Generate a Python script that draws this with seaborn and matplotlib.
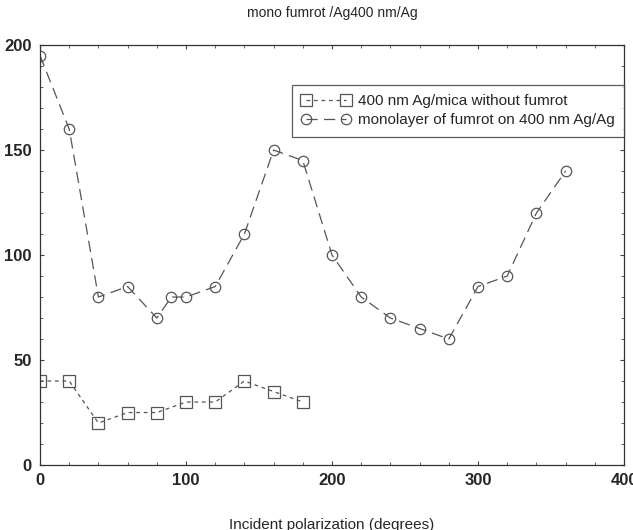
import matplotlib
matplotlib.use("Agg")
import matplotlib.pyplot as plt
import seaborn as sns
from matplotlib.ticker import MultipleLocator

sns.set_style("white")
plt.rcParams['font.family'] = ['Liberation Sans', 'DejaVu Sans']

# data
angle_mica = [0, 20, 40, 60, 80, 100, 120, 140, 160, 180]
int_mica = [40, 40, 20, 25, 25, 30, 30, 40, 35, 30]
angle_mono = [0, 20, 40, 60, 80, 90, 100, 120, 140, 160, 180, 200, 220, 240, 260, 280, 300, 320, 340, 360]
int_mono = [195, 160, 80, 85, 70, 80, 80, 85, 110, 150, 145, 100, 80, 70, 65, 60, 85, 90, 120, 140]
label_mica = "400 nm Ag/mica without fumrot"
label_mono = "monolayer of fumrot on 400 nm Ag/Ag"

fig = plt.figure(figsize=(6.33, 5.30), dpi=100)
ax = fig.add_axes([0.0632, 0.1226, 0.9226, 0.7924])

gray = "#555555"
sns.lineplot(x=angle_mica, y=int_mica, ax=ax, color=gray, linewidth=0.9,
             linestyle=(0, (3, 3)), marker='s', markersize=8.5,
             markerfacecolor='none', markeredgecolor=gray, markeredgewidth=0.9,
             label=label_mica)
sns.lineplot(x=angle_mono, y=int_mono, ax=ax, color=gray, linewidth=0.9,
             linestyle=(0, (9, 5)), marker='o', markersize=7.5,
             markerfacecolor='none', markeredgecolor=gray, markeredgewidth=0.9,
             label=label_mono)

ax.set_xlim(0, 400)
ax.set_ylim(0, 200)
ax.xaxis.set_major_locator(MultipleLocator(100))
ax.xaxis.set_minor_locator(MultipleLocator(20))
ax.yaxis.set_major_locator(MultipleLocator(50))
ax.yaxis.set_minor_locator(MultipleLocator(10))
ax.tick_params(which='both', direction='in', top=True, right=True,
               bottom=True, left=True, color='#444444')
ax.tick_params(which='major', length=3, width=0.8, labelsize=12, pad=6)
ax.tick_params(which='minor', length=2, width=0.6)
for lab in ax.get_xticklabels() + ax.get_yticklabels():
    lab.set_fontweight('bold')
for s in ax.spines.values():
    s.set_color('#333333')
    s.set_linewidth(0.9)

ax.set_xlabel("Incident polarization (degrees)", fontsize=11, labelpad=21)
ax.set_ylabel("")
fig.text(0.525, 0.975, "mono fumrot /Ag400 nm/Ag", ha='center', va='center', fontsize=10)

leg = ax.legend(loc='upper right', bbox_to_anchor=(1.0, 0.905), frameon=True,
                fancybox=False, fontsize=11, handlelength=3.2, numpoints=2,
                borderpad=0.6, labelspacing=0.35, handletextpad=0.5,
                borderaxespad=0.0)
leg.get_frame().set_edgecolor('#333333')
leg.get_frame().set_linewidth(0.9)

fig.savefig("out.png", dpi=100)
